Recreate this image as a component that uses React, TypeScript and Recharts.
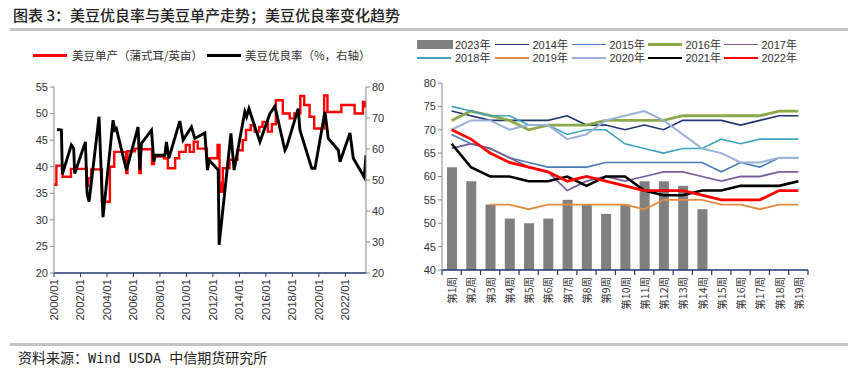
import React from 'react';
import { ComposedChart, Line, Bar, XAxis, YAxis } from 'recharts';

// ---------- Left chart data ----------
const yieldDates = [2000.0, 2000.18, 2000.65, 2001.28, 2002.48, 2002.6, 2002.8, 2003.62, 2004.22, 2004.55, 2005.45, 2005.55, 2006.1, 2006.45, 2006.55, 2007.4, 2007.55, 2008.3, 2008.6, 2009.15, 2009.45, 2009.95, 2010.25, 2010.55, 2010.85, 2011.55, 2012.35, 2012.5, 2012.58, 2012.75, 2013.25, 2013.85, 2014.25, 2014.5, 2014.85, 2015.15, 2015.5, 2015.75, 2016.15, 2016.45, 2016.75, 2017.28, 2017.8, 2018.15, 2018.6, 2018.9, 2019.3, 2019.65, 2020.4, 2020.65, 2021.7, 2022.7, 2023.33, 2023.5, 2023.56];
const yieldValues = [36.6, 40.2, 38.1, 39.6, 36.4, 37.8, 39.5, 33.4, 40.0, 42.8, 38.8, 42.9, 43.4, 38.8, 43.3, 40.5, 41.9, 41.6, 39.7, 41.6, 42.8, 44.1, 42.8, 44.7, 43.4, 41.6, 44.1, 37.0, 35.3, 39.7, 41.3, 43.1, 45.0, 46.9, 47.8, 46.6, 47.5, 48.4, 46.6, 48.0, 52.5, 50.0, 49.1, 50.0, 53.3, 51.6, 49.4, 47.2, 53.4, 50.3, 51.6, 50.0, 52.2, 51.3, 51.3];

const goodDates = [2000.23, 2000.56, 2000.63, 2001.31, 2001.49, 2001.56, 2002.37, 2002.5, 2002.65, 2003.4, 2003.7, 2004.46, 2004.59, 2004.71, 2005.47, 2006.35, 2006.48, 2006.6, 2007.36, 2007.54, 2007.65, 2008.37, 2008.49, 2008.67, 2009.5, 2009.75, 2010.38, 2010.63, 2011.39, 2011.59, 2011.72, 2012.4, 2012.47, 2013.36, 2013.6, 2014.41, 2014.54, 2014.72, 2015.55, 2016.3, 2016.68, 2017.44, 2017.57, 2018.44, 2018.57, 2019.46, 2019.71, 2020.46, 2020.71, 2021.47, 2021.6, 2022.35, 2022.6, 2023.43, 2023.56];
const goodValues = [66.3, 66.1, 51.9, 61.3, 60.2, 52.1, 62.3, 45.7, 43.0, 70.4, 38.0, 69.3, 66.1, 66.6, 53.2, 67.1, 53.2, 61.8, 66.1, 55.9, 58.0, 58.0, 62.3, 57.0, 69.0, 62.9, 67.1, 63.4, 65.2, 53.2, 56.4, 53.2, 29.1, 65.0, 53.2, 72.0, 70.4, 73.0, 62.3, 71.4, 73.8, 59.6, 60.7, 73.0, 66.1, 53.8, 53.8, 72.0, 63.4, 59.6, 55.9, 65.2, 57.0, 50.9, 58.0];

const yearTicks = [2000, 2002, 2004, 2006, 2008, 2010, 2012, 2014, 2016, 2018, 2020, 2022];
const leftTicks = [20, 25, 30, 35, 40, 45, 50, 55];
const rightTicks = [20, 30, 40, 50, 60, 70, 80];

// ---------- Right chart data ----------
const weeks = ['第1周', '第2周', '第3周', '第4周', '第5周', '第6周', '第7周', '第8周', '第9周', '第10周', '第11周', '第12周', '第13周', '第14周', '第15周', '第16周', '第17周', '第18周', '第19周'];
const y2023 = [62, 59, 54, 51, 50, 51, 55, 54, 52, 54, 59, 59, 58, 53, null, null, null, null, null];
const y2014 = [74, 73, 72, 72, 72, 72, 73, 71, 71, 70, 71, 70, 72, 72, 72, 71, 72, 73, 73];
const y2015 = [69, 67, 66, 64, 63, 62, 62, 62, 63, 63, 63, 63, 63, 63, 61, 63, 62, 64, 64];
const y2016 = [72, 74, 73, 72, 70, 71, 71, 71, 72, 72, 72, 72, 73, 73, 73, 73, 73, 74, 74];
const y2017 = [66, 67, 66, 64, 62, 61, 57, 59, 60, 59, 60, 61, 61, 60, 59, 60, 60, 61, 61];
const y2018 = [75, 74, 73, 73, 71, 71, 69, 70, 70, 67, 66, 65, 66, 66, 68, 67, 68, 68, 68];
const y2019 = [null, null, 54, 54, 53, 54, 54, 54, 54, 54, 53, 55, 55, 55, 54, 54, 53, 54, 54];
const y2020 = [70, 72, 72, 70, 71, 71, 68, 69, 72, 73, 74, 72, 69, 66, 65, 63, 63, 64, 64];
const y2021 = [67, 62, 60, 60, 59, 59, 60, 58, 60, 60, 57, 56, 56, 57, 57, 58, 58, 58, 59];
const y2022 = [70, 68, 65, 63, 62, 61, 59, 60, 59, 58, 57, 57, 57, 56, 55, 55, 55, 57, 57];
const weekTicks = [40, 45, 50, 55, 60, 65, 70, 75, 80];

const yieldData = yieldDates.map((x, i) => ({ x, v: yieldValues[i] }));
const goodData = goodDates.map((x, i) => ({ x, v: goodValues[i] }));
const weekRows = weeks.map((w, i) => ({
  week: w,
  y2023: y2023[i], y2014: y2014[i], y2015: y2015[i], y2016: y2016[i], y2017: y2017[i],
  y2018: y2018[i], y2019: y2019[i], y2020: y2020[i], y2021: y2021[i], y2022: y2022[i],
}));

const lineSeries = [
  { key: 'y2014', name: '2014年', color: '#1f3570', w: 1.6 },
  { key: 'y2015', name: '2015年', color: '#4a7db8', w: 1.6 },
  { key: 'y2016', name: '2016年', color: '#8caa4c', w: 2.8 },
  { key: 'y2017', name: '2017年', color: '#7b5f9b', w: 1.8 },
  { key: 'y2018', name: '2018年', color: '#3fa3bd', w: 1.6 },
  { key: 'y2019', name: '2019年', color: '#e28c40', w: 1.8 },
  { key: 'y2020', name: '2020年', color: '#98b2d8', w: 2.0 },
  { key: 'y2021', name: '2021年', color: '#000000', w: 2.6 },
  { key: 'y2022', name: '2022年', color: '#ff0000', w: 2.8 },
];

const NUM_FONT = '"Liberation Sans", Arial, sans-serif';
const CJK_FONT = '"Noto Sans CJK SC", sans-serif';
const MIX_FONT = '"Liberation Sans", "Noto Sans CJK SC", sans-serif';

const YearTick = (props: any) => {
  const { x, payload } = props;
  const y = 219;
  return (
    <text x={x} y={y} transform={`rotate(-90, ${x}, ${y})`} textAnchor="end" dominantBaseline="central"
      fontSize={11.5} fontFamily={NUM_FONT} fill="#333">{`${payload.value}/01`}</text>
  );
};

const RIGHT_AXIS_Y = 210;
const HALF_BAND = 366 / 19 / 2;
const WeekTick = (props: any) => {
  const { x, payload, index } = props;
  const y = RIGHT_AXIS_Y + 7;
  return (
    <g>
      <line x1={x - HALF_BAND} x2={x - HALF_BAND} y1={RIGHT_AXIS_Y} y2={RIGHT_AXIS_Y + 5} stroke="#1f3a6e" strokeWidth={1.2} />
      {index === weeks.length - 1 && (
        <line x1={x + HALF_BAND} x2={x + HALF_BAND} y1={RIGHT_AXIS_Y} y2={RIGHT_AXIS_Y + 5} stroke="#1f3a6e" strokeWidth={1.2} />
      )}
      <text x={x} y={y} transform={`rotate(-90, ${x}, ${y})`} textAnchor="end" dominantBaseline="central"
        fontSize={10.5} fontFamily={CJK_FONT} fill="#333">{payload.value}</text>
    </g>
  );
};

const numTick = { fontSize: 11, fontFamily: NUM_FONT, fill: '#333' };

export default function App() {
  return (
    <div style={{ position: 'fixed', left: 0, top: 0, width: 848, height: 373, background: '#fff', overflow: 'hidden', fontFamily: CJK_FONT, color: '#333' }}>
      <div style={{ position: 'absolute', left: 13, top: 6, fontSize: 15, lineHeight: '18px', color: '#222', whiteSpace: 'nowrap', fontWeight: 500 }}>
        图表 3：美豆优良率与美豆单产走势；美豆优良率变化趋势
      </div>
      <div style={{ position: 'absolute', left: 10, top: 28, width: 838, height: 3, background: '#c4c4c4' }} />

      {/* Left legend */}
      <div style={{ position: 'absolute', left: 33, top: 54, width: 34, height: 2.5, background: '#ff0000' }} />
      <div style={{ position: 'absolute', left: 72, top: 48, fontSize: 11.5, lineHeight: '14px', whiteSpace: 'nowrap' }}>美豆单产（蒲式耳/英亩）</div>
      <div style={{ position: 'absolute', left: 207, top: 54, width: 34, height: 2.5, background: '#000' }} />
      <div style={{ position: 'absolute', left: 245, top: 48, fontSize: 11.5, lineHeight: '14px', whiteSpace: 'nowrap' }}>美豆优良率（%，右轴）</div>

      {/* Left chart */}
      <div style={{ position: 'absolute', left: 0, top: 60 }}>
        <ComposedChart width={424} height={280} margin={{ top: 27, right: 18, bottom: 17, left: 14 }}>
          <XAxis dataKey="x" type="number" domain={[2000, 2023.56]} allowDataOverflow ticks={yearTicks} interval={0}
            height={50} tick={<YearTick />} axisLine={{ stroke: '#1f3a6e', strokeWidth: 1.5 }} tickLine={{ stroke: '#1f3a6e' }} tickSize={4} />
          <YAxis yAxisId="left" domain={[20, 55]} ticks={leftTicks} interval={0} width={40} tick={numTick}
            axisLine={{ stroke: '#888' }} tickLine={{ stroke: '#888' }} tickSize={4} />
          <YAxis yAxisId="right" orientation="right" domain={[20, 80]} ticks={rightTicks} interval={0} width={40} tick={numTick}
            axisLine={{ stroke: '#888' }} tickLine={{ stroke: '#888' }} tickSize={4} />
          <Line yAxisId="left" data={yieldData} dataKey="v" type="stepAfter" stroke="#ff0000" strokeWidth={2.4} dot={false} activeDot={false} isAnimationActive={false} />
          <Line yAxisId="right" data={goodData} dataKey="v" type="linear" stroke="#000" strokeWidth={2.9} dot={false} activeDot={false} isAnimationActive={false} />
        </ComposedChart>
      </div>

      {/* Right legend */}
      {(() => {
        const xs = [417, 494.5, 571.5, 647.5, 723.5];
        const items = [{ name: '2023年', color: '#808080', w: 0, bar: true }, ...lineSeries.map(s => ({ ...s, bar: false }))];
        return items.map((it, i) => {
          const row = i < 5 ? 0 : 1;
          const x = xs[i % 5];
          const cy = row === 0 ? 44.5 : 58;
          return (
            <React.Fragment key={it.name}>
              {it.bar ? (
                <div style={{ position: 'absolute', left: x, top: cy - 4.5, width: 36, height: 9, background: it.color }} />
              ) : (
                <div style={{ position: 'absolute', left: x, top: cy - it.w / 2, width: 34, height: it.w, background: it.color }} />
              )}
              <div style={{ position: 'absolute', left: x + 38, top: cy - 6, fontSize: 11, lineHeight: '12px', whiteSpace: 'nowrap', fontFamily: MIX_FONT }}>{it.name}</div>
            </React.Fragment>
          );
        });
      })()}

      {/* Right chart */}
      <div style={{ position: 'absolute', left: 410, top: 60 }}>
        <ComposedChart width={438} height={280} data={weekRows} margin={{ top: 23, right: 40, bottom: 20, left: 4 }}>
          <XAxis dataKey="week" interval={0} height={50} tick={<WeekTick />} tickLine={false}
            axisLine={{ stroke: '#1f3a6e', strokeWidth: 1.5 }} />
          <YAxis domain={[40, 80]} ticks={weekTicks} interval={0} width={28} tick={numTick}
            axisLine={{ stroke: '#888' }} tickLine={{ stroke: '#888' }} tickSize={4} />
          <Bar dataKey="y2023" fill="#808080" barSize={10} isAnimationActive={false} />
          {lineSeries.map(s => (
            <Line key={s.key} dataKey={s.key} type="linear" stroke={s.color} strokeWidth={s.w} dot={false} activeDot={false} isAnimationActive={false} />
          ))}
        </ComposedChart>
      </div>

      <div style={{ position: 'absolute', left: 10, top: 343, width: 838, height: 3, background: '#c4c4c4' }} />
      <div style={{ position: 'absolute', left: 18, top: 349, fontSize: 14, lineHeight: '17px', color: '#222', whiteSpace: 'nowrap' }}>
        资料来源：<span style={{ fontFamily: '"DejaVu Sans Mono", monospace', fontSize: 13.5 }}>Wind USDA </span>中信期货研究所
      </div>
    </div>
  );
}
